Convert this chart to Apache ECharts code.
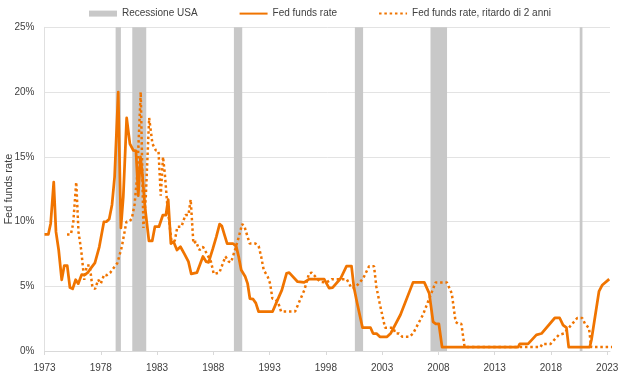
<!DOCTYPE html>
<html>
<head>
<meta charset="utf-8">
<script src="https://cdn.jsdelivr.net/npm/echarts@6/dist/echarts.min.js"></script>
<style>
  html, body { margin: 0; padding: 0; background: #ffffff; }
  #chart { width: 640px; height: 378px; }
</style>
</head>
<body>
<div id="chart"></div>
<script>
// ---- Data ----
const years = [
  1973.00, 1973.34, 1973.55, 1973.82, 1974.02, 1974.26, 1974.53, 1974.76, 1975.02, 1975.26,
  1975.50, 1975.77, 1976.00, 1976.30, 1976.53, 1976.84, 1977.04, 1977.48, 1977.87, 1978.28,
  1978.52, 1978.75, 1979.00, 1979.23, 1979.55, 1979.79, 1980.00, 1980.30, 1980.59, 1980.89,
  1981.13, 1981.33, 1981.53, 1981.69, 1981.93, 1982.28, 1982.57, 1982.81, 1983.17, 1983.52,
  1983.79, 1983.99, 1984.23, 1984.46, 1984.77, 1985.08, 1985.43, 1985.79, 1986.04, 1986.54,
  1987.08, 1987.37, 1987.58, 1987.96, 1988.26, 1988.56, 1988.76, 1989.00, 1989.23, 1989.74,
  1990.03, 1990.25, 1990.48, 1990.83, 1991.05, 1991.25, 1991.54, 1991.78, 1992.02, 1993.27,
  1993.71, 1994.09, 1994.51, 1994.74, 1995.49, 1996.07, 1996.52, 1997.85, 1998.29, 1998.60,
  1999.31, 1999.84, 2000.28, 2000.49, 2000.78, 2001.26, 2001.97, 2002.20, 2002.50, 2002.80,
  2003.44, 2003.75, 2004.63, 2005.75, 2006.75, 2007.19, 2007.53, 2007.77, 2008.04, 2008.33,
  2015.08, 2015.23, 2015.97, 2016.71, 2017.16, 2018.34, 2018.78, 2019.08, 2019.38, 2019.58,
  2021.45, 2021.60, 2022.27, 2022.57, 2023.18
];
const fedRate = [
  9.0, 9.0, 9.85, 13.05, 9.2, 7.8, 5.5, 6.6, 6.6, 4.9,
  4.8, 5.5, 5.2, 5.9, 5.85, 6.05, 6.3, 6.8, 8.05, 9.98,
  10.0, 10.2, 11.3, 13.45, 20.0, 9.5, 11.9, 18.0, 16.0, 15.5,
  15.45, 12.0, 15.0, 13.7, 11.1, 8.5, 8.5, 9.6, 9.6, 10.5,
  10.5, 11.7, 8.3, 8.45, 7.8, 8.05, 7.5, 6.9, 5.95, 6.05,
  7.3, 6.9, 6.85, 7.9, 8.8, 9.8, 9.65, 8.95, 8.3, 8.3,
  8.1, 7.3, 6.25, 5.75, 5.2, 4.05, 4.0, 3.7, 3.05, 3.05,
  3.95, 4.7, 6.0, 6.05, 5.35, 5.3, 5.55, 5.55, 4.85, 4.9,
  5.6, 6.55, 6.55, 4.95, 3.7, 1.8, 1.8, 1.35, 1.35, 1.1,
  1.1, 1.35, 2.8, 5.3, 5.3, 4.45, 2.25, 2.1, 2.1, 0.3,
  0.3, 0.55, 0.55, 1.25, 1.35, 2.55, 2.55, 2.0, 1.8, 0.3,
  0.3, 0.85, 4.6, 5.1, 5.55
];
const lagYears = 2;
const recessionStart = [1979.32, 1980.80, 1989.83, 2000.58, 2007.30, 2020.56];
const recessionEnd   = [1979.79, 1982.04, 1990.57, 2001.31, 2008.77, 2020.80];
const xTickLabels = [1973, 1978, 1983, 1988, 1993, 1998, 2003, 2008, 2013, 2018, 2023];
const yTicks = [0, 5, 10, 15, 20, 25];

const seriesNames = ['Recessione USA', 'Fed funds rate', 'Fed funds rate, ritardo di 2 anni'];

// ---- Build series data ----
const fedData = years.map((y, i) => [y, fedRate[i]]);
const lagData = years.map((y, i) => [y + lagYears, fedRate[i]]);
const recessionAreas = recessionStart.map((s, i) => [{ xAxis: s }, { xAxis: recessionEnd[i] }]);

const ORANGE = '#f07400';
const GREY = '#c8c8c8';
const FONT = 'Liberation Sans';

const chart = echarts.init(document.getElementById('chart'), null, { renderer: 'canvas' });
chart.setOption({
  animation: false,
  backgroundColor: '#ffffff',
  textStyle: { fontFamily: FONT },
  legend: {
    top: 3,
    left: 'center',
    itemWidth: 28,
    itemHeight: 14,
    itemGap: 41,
    textStyle: { fontFamily: FONT, fontSize: 10, color: '#404040' },
    data: [
      { name: seriesNames[0], icon: 'path://M0,0H28V6H0Z', itemStyle: { color: GREY } },
      { name: seriesNames[1], itemStyle: { opacity: 0 } },
      { name: seriesNames[2], itemStyle: { opacity: 0 } }
    ]
  },
  grid: { left: 44.5, right: 30, top: 27.3, bottom: 27, containLabel: false, outerBoundsMode: 'none' },
  xAxis: {
    type: 'value',
    min: xTickLabels[0],
    max: 2023.25,
    axisLine: { show: true, lineStyle: { color: '#d9d9d9', width: 1 } },
    axisTick: { show: true, length: 4, lineStyle: { color: '#d9d9d9' }, customValues: xTickLabels },
    axisLabel: {
      customValues: xTickLabels,
      formatter: v => String(Math.round(v)),
      color: '#404040', fontSize: 10, fontFamily: FONT, margin: 12
    },
    splitLine: { show: false }
  },
  yAxis: {
    type: 'value',
    min: yTicks[0],
    max: yTicks[yTicks.length - 1],
    interval: 5,
    name: 'Fed funds rate',
    nameLocation: 'middle',
    nameGap: 30,
    nameMoveOverlap: false,
    nameTextStyle: { fontFamily: FONT, fontSize: 11, color: '#404040' },
    axisLine: { show: true, lineStyle: { color: '#e0e0e0' } },
    axisTick: { show: false },
    axisLabel: { formatter: '{value}%', color: '#404040', fontSize: 10, fontFamily: FONT, margin: 10 },
    splitLine: { show: true, lineStyle: { color: '#e3e3e3', width: 1 } }
  },
  series: [
    {
      name: seriesNames[0],
      type: 'line',
      data: [],
      itemStyle: { color: GREY },
      lineStyle: { color: GREY },
      silent: true,
      z: 1,
      markArea: {
        silent: true,
        itemStyle: { color: GREY, opacity: 1 },
        data: recessionAreas
      }
    },
    {
      name: seriesNames[1],
      type: 'line',
      data: fedData,
      symbol: 'none',
      showSymbol: false,
      itemStyle: { color: ORANGE },
      lineStyle: { color: ORANGE, width: 2.75, join: 'round' },
      z: 3
    },
    {
      name: seriesNames[2],
      type: 'line',
      data: lagData,
      symbol: 'none',
      showSymbol: false,
      clip: true,
      itemStyle: { color: ORANGE },
      lineStyle: { color: ORANGE, width: 2.5, type: [2.5, 2.8] },
      z: 2
    }
  ]
});
</script>
</body>
</html>
